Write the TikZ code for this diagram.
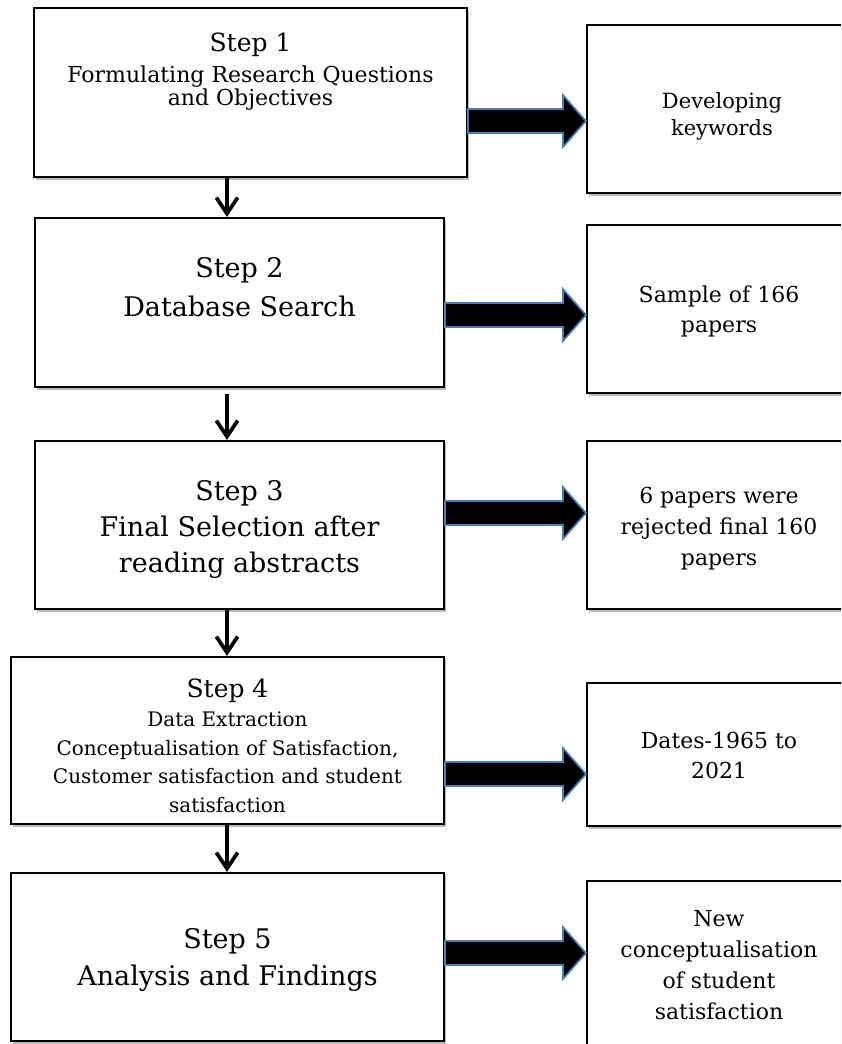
\documentclass[tikz,border=0pt]{standalone}
\usepackage{fontspec}
\setmainfont{DejaVu Serif}
\usetikzlibrary{arrows.meta,calc,shadows}
\definecolor{arrowblue}{HTML}{4A7EBB}
\newcommand\blkarrow[3]{%
  \path (#1.east |- 0,#3) coordinate (bs) (#2.west |- 0,#3) coordinate (be);
  \filldraw[blk] ($(bs)+(0,-12)$) -- ($(be)+(-23,-12)$) -- ($(be)+(-23,-26)$) -- (be)
     -- ($(be)+(-23,26)$) -- ($(be)+(-23,12)$) -- ($(bs)+(0,12)$) -- cycle;}
\begin{document}
\begin{tikzpicture}[x=0.75pt,y=-0.75pt,
  box/.style={draw=black,line width=1.6pt,fill=white,inner sep=0pt,
    drop shadow={shadow xshift=1.2pt,shadow yshift=-2.2pt,opacity=0.45,fill=black!60}},
  boxsize/.style 2 args={minimum width=#1*0.75pt,minimum height=#2*0.75pt},
  txt/.style={align=center,inner sep=0pt,text=black},
  darr/.style={line width=3pt,-{Straight Barb[length=12pt,width=16pt,line width=2.8pt]}},
  blk/.style={fill=black,draw=arrowblue,line width=1.3pt,line join=miter}]
\fill[white] (0,0) rectangle (841,1044);
\clip (0,0) rectangle (841,1044);
% left boxes
\node[box,boxsize={433}{169}] (b1) at (250.5,92.5) {};
\node[box,boxsize={409}{169}] (b2) at (239.5,302.5) {};
\node[box,boxsize={409}{168}] (b3) at (239.5,525) {};
\node[box,boxsize={433}{167}] (b4) at (227.5,740.5) {};
\node[box,boxsize={433}{168}] (b5) at (227.5,957) {};
% right boxes
\node[box,boxsize={263}{168}] (r1) at (718.5,109) {};
\node[box,boxsize={263}{168}] (r2) at (718.5,309) {};
\node[box,boxsize={263}{168}] (r3) at (718.5,525) {};
\node[box,boxsize={263}{143}] (r4) at (718.5,754.5) {};
\node[box,boxsize={263}{168}] (r5) at (718.5,965) {};
% texts
\node[txt,font=\fontsize{16.5pt}{17.25pt}\selectfont] (t1) at (250.5,71.4)
  {{\fontsize{18.75pt}{18.75pt}\selectfont Step 1}\\[6pt] Formulating Research Questions\\ and Objectives};
\node[txt,font=\fontsize{20.25pt}{29.25pt}\selectfont] (t2) at (239.5,286.7)
  {Step 2\\ Database Search};
\node[txt,font=\fontsize{20.25pt}{27pt}\selectfont] (t3) at (239.5,529.4)
  {Step 3\\ Final Selection after\\ reading abstracts};
\node[txt,font=\fontsize{15pt}{21.4pt}\selectfont] (t4) at (227.5,745.9)
  {{\fontsize{18.75pt}{18.75pt}\selectfont Step 4}\\ Data Extraction\\ Conceptualisation of Satisfaction,\\ Customer satisfaction and student\\ satisfaction};
\node[txt,font=\fontsize{20.25pt}{27.75pt}\selectfont] (t5) at (227.5,959.9)
  {Step 5\\ Analysis and Findings};
\node[txt,font=\fontsize{15.75pt}{20.25pt}\selectfont] (u1) at (722,116) {Developing\\ keywords};
\node[txt,font=\fontsize{16.5pt}{22.5pt}\selectfont] (u2) at (719,311.5) {Sample of 166\\ papers};
\node[txt,font=\fontsize{16.5pt}{23.25pt}\selectfont] (u3) at (719,528.5) {6 papers were\\ rejected final 160\\ papers};
\node[txt,font=\fontsize{16.5pt}{22.5pt}\selectfont] (u4) at (719,755) {Dates-1965 to\\ 2021};
\node[txt,font=\fontsize{16.5pt}{23.25pt}\selectfont] (u5) at (719,965.5) {New\\ conceptualisation\\ of student\\ satisfaction};
% down arrows
\coordinate (ax) at (227,0);
\draw[darr] (b1.south -| ax) -- (b2.north -| ax);
\draw[darr] ($(b2.south -| ax)+(0,6)$) -- (b3.north -| ax);
\draw[darr] (b3.south -| ax) -- (b4.north -| ax);
\draw[darr] (b4.south -| ax) -- (b5.north -| ax);
% block arrows
\blkarrow{b1}{r1}{121}
\blkarrow{b2}{r2}{315}
\blkarrow{b3}{r3}{513}
\blkarrow{b4}{r4}{774}
\blkarrow{b5}{r5}{953}
\end{tikzpicture}
\end{document}
